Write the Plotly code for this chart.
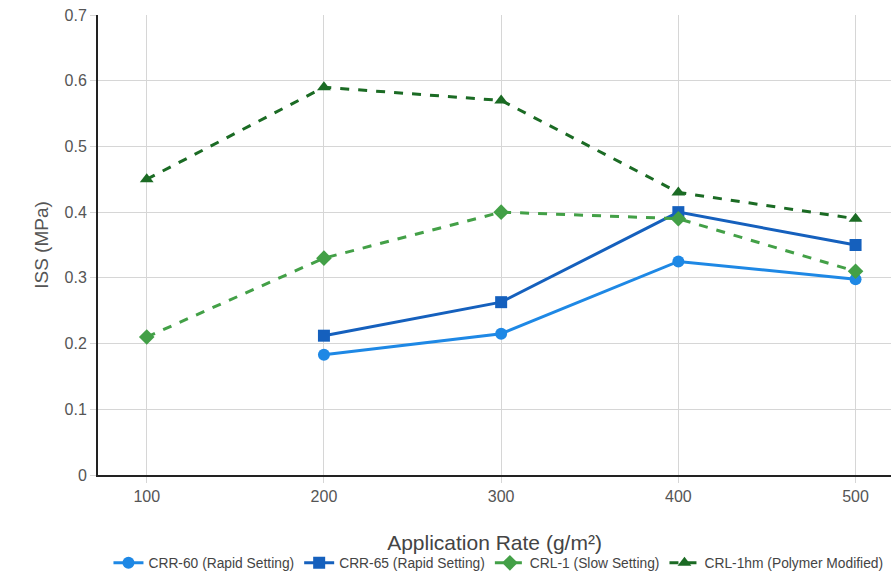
import plotly.graph_objects as go

rates = [100, 200, 300, 400, 500]
crr60 = [None, 0.183, 0.215, 0.325, 0.298]
crr65 = [None, 0.212, 0.263, 0.400, 0.350]
crl1 = [0.21, 0.33, 0.40, 0.39, 0.31]
crl1hm = [0.45, 0.59, 0.57, 0.43, 0.39]

series = [
    ("CRR-60 (Rapid Setting)", crr60, "#1E88E5", "solid", "circle"),
    ("CRR-65 (Rapid Setting)", crr65, "#1560BD", "solid", "square"),
    ("CRL-1 (Slow Setting)", crl1, "#43A047", "dash", "diamond"),
    ("CRL-1hm (Polymer Modified)", crl1hm, "#1B6B24", "dash", "triangle-up"),
]

fig = go.Figure()
for name, ys, color, dash, sym in series:
    fig.add_trace(go.Scatter(
        x=rates, y=ys, name=name, mode="lines+markers",
        line=dict(color=color, width=3, dash=dash),
        marker=dict(color=color, size=12, symbol=sym),
    ))

fig.update_layout(
    width=891, height=575,
    margin=dict(l=98, r=0, t=15, b=100, autoexpand=False),
    plot_bgcolor="white", paper_bgcolor="white",
    font=dict(family="Liberation Sans, Arial, sans-serif", color="#555"),
    showlegend=True,
    legend=dict(orientation="h", x=0.505, xanchor="center", y=-0.191, yanchor="middle",
                font=dict(size=13.8, color="#444")),
    xaxis=dict(
        title=dict(text="Application Rate (g/m²)", font=dict(size=21, color="#444"), standoff=31),
        range=[72.5, 520], tickvals=rates, tickfont=dict(size=16, color="#555"),
        showgrid=True, gridcolor="#d6d6d6", gridwidth=1,
        showline=True, linecolor="#222", linewidth=2,
        ticks="outside", tickcolor="#d6d6d6", ticklen=6, zeroline=False,
        automargin=False,
    ),
    yaxis=dict(
        title=dict(text="ISS (MPa)", font=dict(size=19, color="#555"), standoff=11),
        range=[0, 0.7], dtick=0.1, tickfont=dict(size=16, color="#555"),
        showgrid=True, gridcolor="#d6d6d6", gridwidth=1,
        showline=True, linecolor="#222", linewidth=2,
        ticks="outside", tickcolor="#d6d6d6", ticklen=6, zeroline=False,
        automargin=False,
    ),
)

fig.write_html("out.html", config={"displayModeBar": False},
               post_script="document.body.style.margin='0';")
